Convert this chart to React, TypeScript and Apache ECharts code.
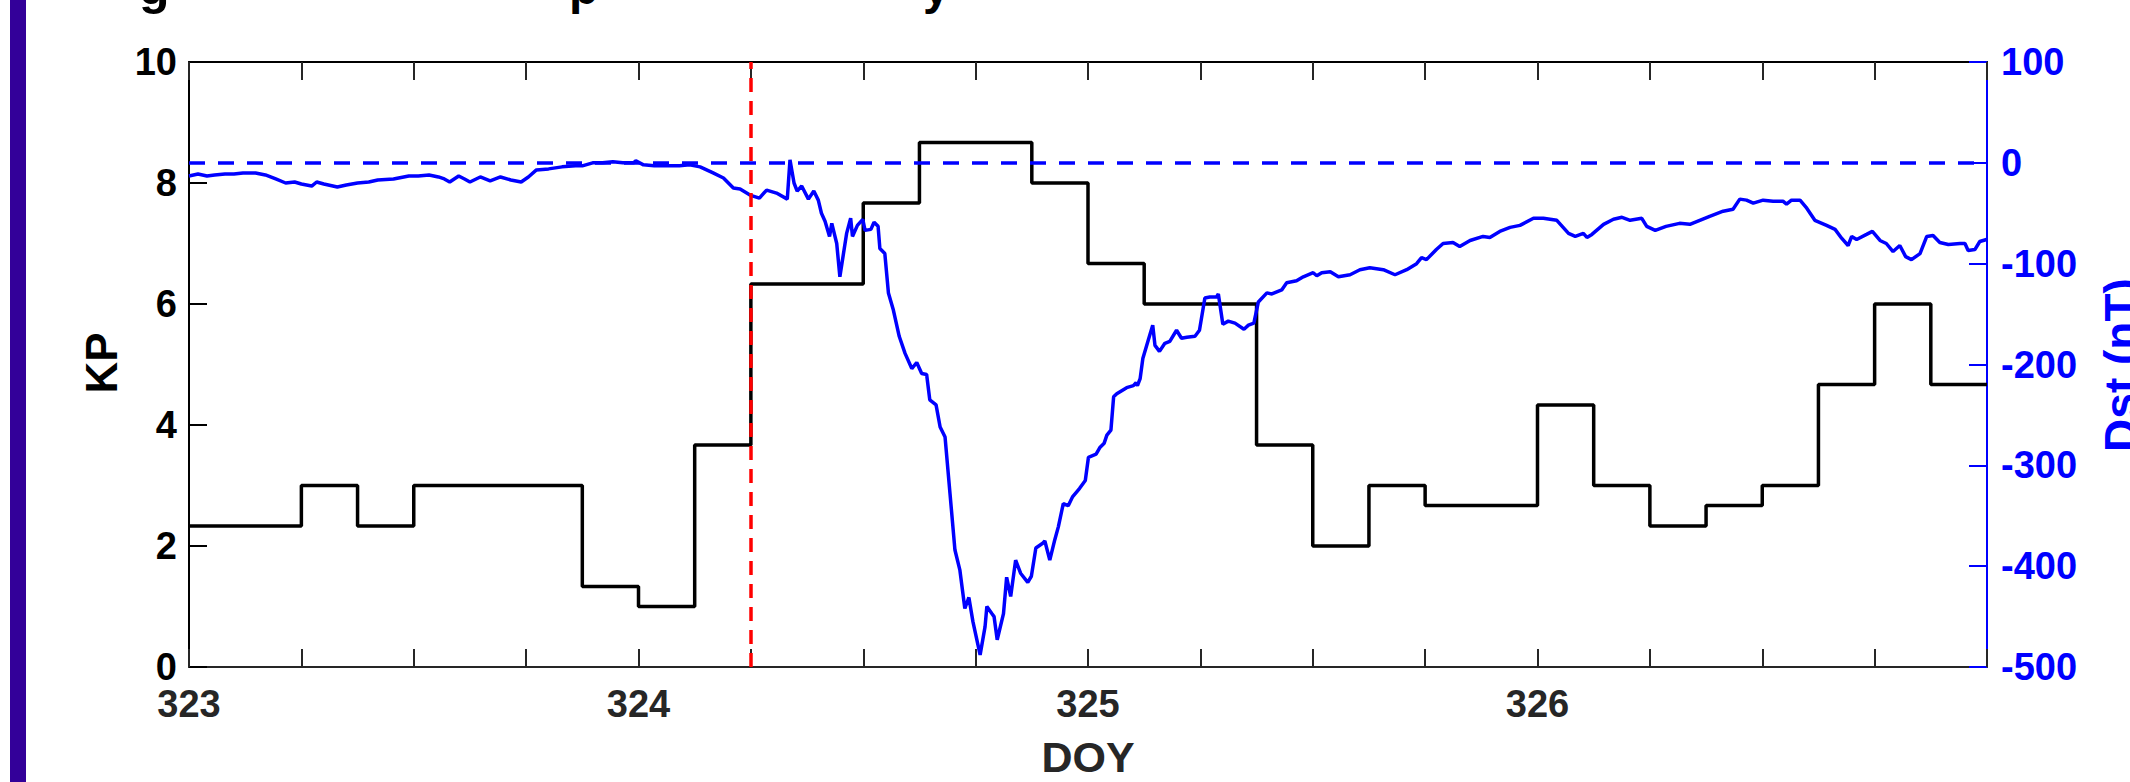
import React, { useEffect, useRef } from "react";
import * as echarts from "echarts";

// Kp index, 3-hour values starting at DOY 323.0
const kpStartDay = 323;
const kpStepDays = 0.125;
const kpValues = [
  2.33, 2.33, 3, 2.33, 3, 3, 3, 1.33,
  1, 3.67, 6.33, 6.33, 7.67, 8.67, 8.67, 8,
  6.67, 6, 6, 3.67, 2, 3, 2.67, 2.67,
  4.33, 3, 2.33, 2.67, 3, 4.67, 6, 4.67,
];

// Dst index (nT) versus day of year
const dstDays = [
  323.0, 323.02, 323.04, 323.057, 323.08, 323.1, 323.12, 323.148, 323.17, 323.193,
  323.215, 323.235, 323.25, 323.273, 323.284, 323.3, 323.33, 323.35, 323.375, 323.4,
  323.42, 323.455, 323.489, 323.51, 323.534, 323.555, 323.568, 323.58, 323.6, 323.613,
  323.625, 323.648, 323.67, 323.693, 323.716, 323.739, 323.755, 323.773, 323.8, 323.83,
  323.86, 323.875, 323.898, 323.92, 323.943, 323.965, 323.989, 323.994, 324.011, 324.035,
  324.057, 324.091, 324.114, 324.137, 324.166, 324.189, 324.211, 324.226, 324.248, 324.269,
  324.285, 324.307, 324.331, 324.337, 324.346, 324.353, 324.363, 324.378, 324.39, 324.4,
  324.407, 324.415, 324.425, 324.43, 324.441, 324.448, 324.463, 324.472, 324.476, 324.487,
  324.499, 324.504, 324.517, 324.524, 324.533, 324.537, 324.548, 324.556, 324.567, 324.58,
  324.593, 324.608, 324.619, 324.63, 324.641, 324.648, 324.662, 324.671, 324.682, 324.693,
  324.704, 324.715, 324.726, 324.735, 324.744, 324.76, 324.771, 324.775, 324.786, 324.791,
  324.798, 324.812, 324.819, 324.828, 324.839, 324.85, 324.866, 324.874, 324.884, 324.9,
  324.904, 324.915, 324.926, 324.934, 324.945, 324.956, 324.966, 324.981, 324.994, 325.001,
  325.018, 325.027, 325.036, 325.042, 325.051, 325.057, 325.064, 325.075, 325.086, 325.101,
  325.107, 325.11, 325.116, 325.122, 325.134, 325.144, 325.149, 325.159, 325.171, 325.182,
  325.197, 325.208, 325.22, 325.238, 325.248, 325.26, 325.271, 325.286, 325.29, 325.3,
  325.312, 325.327, 325.347, 325.357, 325.369, 325.379, 325.398, 325.409, 325.431, 325.442,
  325.464, 325.479, 325.501, 325.509, 325.52, 325.539, 325.557, 325.583, 325.605, 325.627,
  325.657, 325.683, 325.709, 325.731, 325.742, 325.753, 325.775, 325.79, 325.812, 325.827,
  325.85, 325.879, 325.894, 325.916, 325.939, 325.961, 325.991, 326.013, 326.043, 326.069,
  326.084, 326.102, 326.11, 326.121, 326.147, 326.169, 326.188, 326.206, 326.232, 326.243,
  326.262, 326.286, 326.316, 326.339, 326.361, 326.383, 326.413, 326.435, 326.45, 326.465,
  326.48, 326.502, 326.524, 326.546, 326.554, 326.565, 326.584, 326.599, 326.617, 326.643,
  326.662, 326.677, 326.691, 326.699, 326.71, 326.732, 326.745, 326.762, 326.776, 326.791,
  326.806, 326.819, 326.832, 326.851, 326.866, 326.88, 326.895, 326.914, 326.94, 326.951,
  326.958, 326.973, 326.984, 326.999,
];
const dstValues = [
  -13, -11, -13, -12, -11, -11, -10, -10, -12, -16,
  -20, -19, -21, -23, -19, -21, -24, -22, -20, -19,
  -17, -16, -13, -13, -12, -14, -16, -19, -13, -16,
  -19, -14, -18, -14, -17, -19, -14, -7, -6, -4,
  -3, -3, 0, 0, 1, 0, 0, 2, -2, -3,
  -3, -3, -2, -4, -10, -15, -25, -26, -32, -35,
  -27, -30, -36, 3, -20, -28, -23, -36, -28, -37,
  -50, -58, -73, -60, -80, -113, -70, -55, -73, -62,
  -56, -67, -66, -59, -63, -85, -90, -129, -146, -172,
  -189, -204, -198, -209, -210, -235, -240, -262, -272, -328,
  -384, -404, -442, -431, -455, -488, -460, -440, -447, -450,
  -473, -447, -411, -430, -394, -407, -416, -410, -382, -377,
  -375, -394, -374, -361, -338, -340, -331, -323, -315, -292,
  -289, -282, -278, -270, -265, -232, -229, -226, -223, -221,
  -218, -221, -214, -194, -176, -161, -181, -187, -179, -177,
  -166, -174, -173, -172, -166, -134, -133, -133, -130, -160,
  -157, -159, -165, -161, -159, -138, -129, -130, -126, -119,
  -117, -113, -109, -112, -109, -108, -113, -111, -106, -104,
  -106, -111, -106, -100, -94, -96, -86, -80, -79, -83,
  -77, -73, -74, -68, -64, -62, -55, -55, -57, -70,
  -73, -70, -74, -71, -61, -56, -54, -57, -55, -63,
  -67, -63, -60, -61, -57, -53, -48, -46, -36, -37,
  -40, -37, -38, -38, -41, -37, -37, -45, -57, -62,
  -66, -75, -82, -73, -76, -71, -68, -77, -80, -88,
  -82, -93, -96, -90, -73, -72, -79, -81, -80, -80,
  -87, -86, -78, -76,
];

// Storm onset marker and Dst quiet-level reference
const onsetDay = 324.25;
const dstReference = 0;

const xTicks = { min: 323, max: 327, interval: 0.25 };
const kpAxis = { min: 0, max: 10, interval: 2 };
const dstAxis = { min: -500, max: 100, interval: 100 };

const FONT = "'Liberation Sans', Arial, Helvetica, sans-serif";
const BLUE = "#0000ff";
const DARK = "#262626";

export default function App() {
  const ref = useRef<HTMLDivElement>(null);

  useEffect(() => {
    if (!ref.current) return;
    const chart = echarts.init(ref.current, undefined, { renderer: "svg" });

    const kpData = kpValues.map((v, i) => [kpStartDay + i * kpStepDays, v]);
    kpData.push([kpStartDay + kpValues.length * kpStepDays, kpValues[kpValues.length - 1]]);
    const dstData = dstDays.map((d, i) => [d, dstValues[i]]);

    const dayLabel = (v: number) =>
      Math.abs(v - Math.round(v)) < 1e-6 && v < xTicks.max - 0.5 ? String(Math.round(v)) : "";

    const option: any = {
      animation: false,
      backgroundColor: "#ffffff",
      grid: { left: 189, right: 143, top: 62, bottom: 115, containLabel: false },
      xAxis: [
        {
          type: "value",
          position: "bottom",
          ...xTicks,
          axisLine: { show: true, onZero: false, lineStyle: { color: DARK, width: 2 } },
          axisTick: { show: true, inside: true, length: 18, lineStyle: { color: DARK, width: 2 } },
          axisLabel: {
            show: true,
            formatter: dayLabel,
            color: DARK,
            fontSize: 38,
            fontWeight: "bold",
            fontFamily: FONT,
            margin: 18,
          },
          splitLine: { show: false },
        },
        {
          type: "value",
          position: "top",
          ...xTicks,
          axisLine: { show: true, onZero: false, lineStyle: { color: "#000", width: 2 } },
          axisTick: { show: true, inside: true, length: 18, lineStyle: { color: DARK, width: 2 } },
          axisLabel: { show: false },
          splitLine: { show: false },
        },
      ],
      yAxis: [
        {
          type: "value",
          position: "left",
          ...kpAxis,
          axisLine: { show: true, onZero: false, lineStyle: { color: "#000", width: 2 } },
          axisTick: { show: true, inside: true, length: 18, lineStyle: { color: "#000", width: 2 } },
          axisLabel: {
            color: "#000",
            fontSize: 38,
            fontWeight: "bold",
            fontFamily: FONT,
            margin: 12,
          },
          splitLine: { show: false },
        },
        {
          type: "value",
          position: "right",
          ...dstAxis,
          axisLine: { show: true, onZero: false, lineStyle: { color: BLUE, width: 2 } },
          axisTick: { show: true, inside: true, length: 18, lineStyle: { color: BLUE, width: 2 } },
          axisLabel: {
            color: BLUE,
            fontSize: 38,
            fontWeight: "bold",
            fontFamily: FONT,
            margin: 14,
          },
          splitLine: { show: false },
        },
      ],
      series: [
        {
          name: "KP",
          type: "line",
          xAxisIndex: 0,
          yAxisIndex: 0,
          step: "end",
          data: kpData,
          showSymbol: false,
          lineStyle: { color: "#000", width: 3.5 },
          z: 2,
        },
        {
          name: "Dst",
          type: "line",
          xAxisIndex: 0,
          yAxisIndex: 1,
          data: dstData,
          showSymbol: false,
          lineStyle: { color: BLUE, width: 3.5 },
          z: 3,
          markLine: {
            silent: true,
            symbol: ["none", "none"],
            label: { show: false },
            data: [
              { yAxis: dstReference, lineStyle: { color: BLUE, width: 3.5, type: [16, 13] } },
              { xAxis: onsetDay, lineStyle: { color: "#ff0000", width: 3.5, type: [14, 9] } },
            ],
          },
        },
      ],
      graphic: [
        { type: "rect", left: 10, top: 0, shape: { width: 16, height: 782 }, style: { fill: "#330099" } },
        {
          type: "text",
          x: 101,
          y: 363,
          rotation: Math.PI / 2,
          style: { text: "KP", fill: "#000", font: `bold 44px ${FONT}`, align: "center", verticalAlign: "middle" },
        },
        {
          type: "text",
          x: 1088,
          y: 757,
          style: { text: "DOY", fill: DARK, font: `bold 43px ${FONT}`, align: "center", verticalAlign: "middle" },
        },
        {
          type: "text",
          x: 2121,
          y: 365,
          rotation: Math.PI / 2,
          style: { text: "Dst (nT)", fill: BLUE, font: `bold 46px ${FONT}`, align: "center", verticalAlign: "middle" },
        },
        { type: "text", x: 139, y: -13, style: { text: "g", fill: "#000", font: `bold 50px ${FONT}`, verticalAlign: "middle" } },
        { type: "text", x: 569, y: -13, style: { text: "p", fill: "#000", font: `bold 48px ${FONT}`, verticalAlign: "middle" } },
        { type: "text", x: 923, y: -13, style: { text: "y", fill: "#000", font: `bold 48px ${FONT}`, verticalAlign: "middle" } },
      ],
    };

    chart.setOption(option);
    return () => chart.dispose();
  }, []);

  return (
    <div
      ref={ref}
      style={{ position: "absolute", left: 0, top: 0, width: 2130, height: 782, background: "#fff" }}
    />
  );
}
